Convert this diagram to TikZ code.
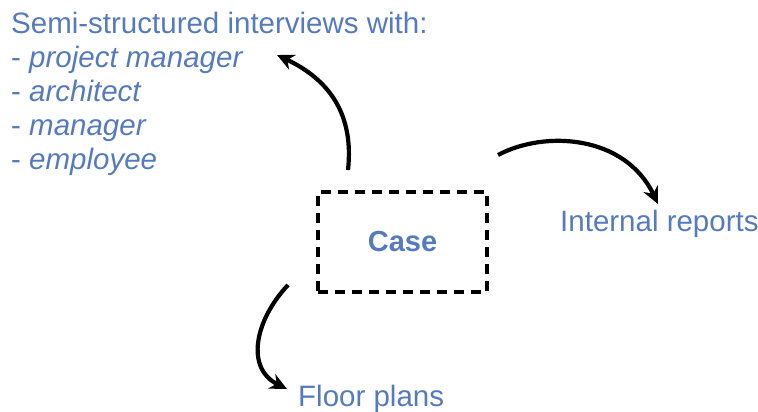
\documentclass[tikz,border=0pt]{standalone}
\usepackage{fontspec}
\setmainfont{Liberation Sans}
\usetikzlibrary{arrows.meta}
\definecolor{txtblue}{RGB}{86,122,190}
\tikzset{
  lbl/.style={text=txtblue, font=\fontsize{29.5}{34}\selectfont, inner sep=0pt},
  casebox/.style={draw=black, line width=4pt, dash pattern=on 10pt off 7pt, minimum width=169pt, minimum height=100pt, text=txtblue, font=\fontsize{29}{34}\selectfont\bfseries},
  conn/.style={line width=4.2pt, -{Stealth[length=17pt,width=16pt]}}
}
\begin{document}
\begin{tikzpicture}[x=1pt,y=-1pt]
\useasboundingbox (0,0) rectangle (758,412);
\node[casebox] (case) at (402.5,242) {Case};
\node[lbl, anchor=north west, align=left] (intv) at (11,12) {Semi-structured interviews with:\\- \textit{project manager}\\- \textit{architect}\\- \textit{manager}\\- \textit{employee}};
\node[lbl, anchor=west] (rep) at (560,224) {Internal reports};
\node[lbl, anchor=west] (floor) at (298,399) {Floor plans};
\coordinate (s1) at (348,170);
\coordinate (e1) at (277,55);
\coordinate (s2) at (498,155);
\coordinate (e2) at (658,204);
\coordinate (s3) at (288,285);
\coordinate (e3) at (287,389);
\draw[conn] (s1) .. controls (354,115) and (330,80) .. (e1);
\draw[conn] (s2) .. controls (545,130) and (625,135) .. (e2);
\draw[conn] (s3) .. controls (255,320) and (245,368) .. (e3);
\end{tikzpicture}
\end{document}
